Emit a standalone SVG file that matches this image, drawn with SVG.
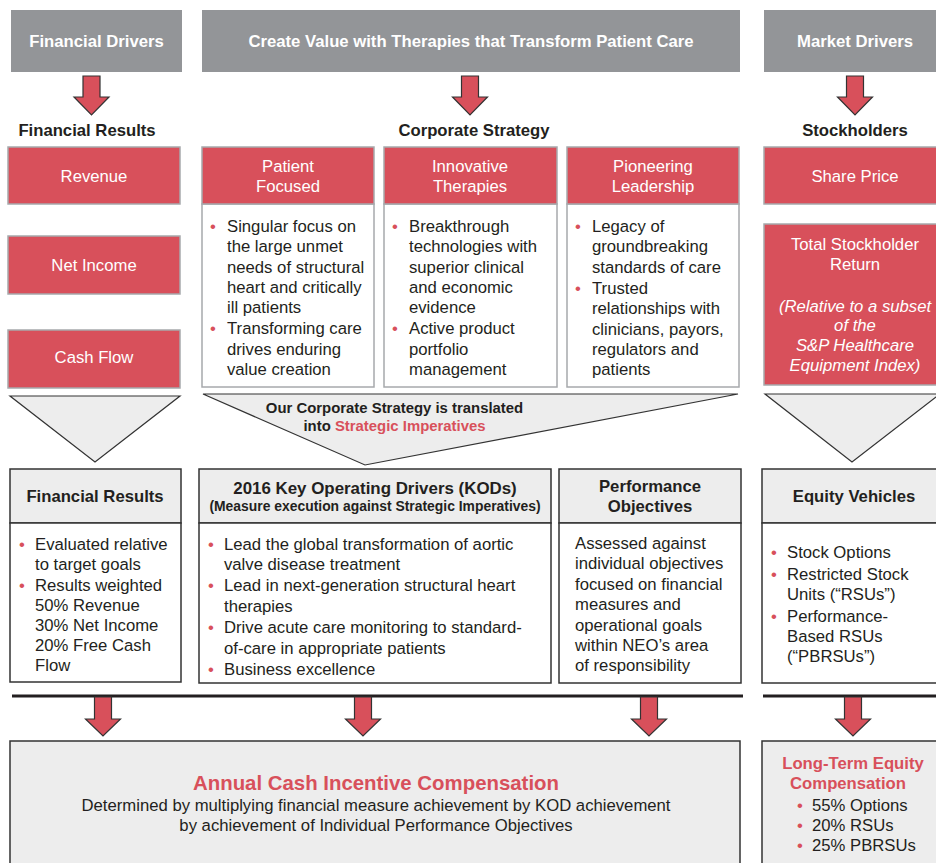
<svg xmlns="http://www.w3.org/2000/svg" width="936" height="863" viewBox="0 0 936 863">
<style>
text{font-family:"Liberation Sans",Arial,Helvetica,sans-serif;fill:#231f20;font-size:16.7px}
.gray{fill:#939598}
.red{fill:#d8505b;stroke:#a7a9ac;stroke-width:1.5}
.wbox{fill:#fff;stroke:#a7a9ac;stroke-width:1.5}
.hbox{fill:#ededed;stroke:#333;stroke-width:1.5}
.bbox{fill:#fff;stroke:#333;stroke-width:1.5}
.tri{fill:#ededed;stroke:#333;stroke-width:1.2}
.arrow{fill:#d8505b;stroke:#333;stroke-width:1.2}
.wt{fill:#fff;font-weight:bold}
.w{fill:#fff}
.b{font-weight:bold}
.c{text-anchor:middle}
.r{fill:#d8505b}
.it{font-style:italic}
.sep{stroke:#231f20;stroke-width:2.8}
</style>

<g id="financial-drivers"><rect class="gray" x="11" y="10" width="171" height="62"/><text class="wt c" x="96.5" y="47">Financial Drivers</text></g>
<g id="create-value"><rect class="gray" x="202" y="10" width="538" height="62"/><text class="wt c" x="471" y="47">Create Value with Therapies that Transform Patient Care</text></g>
<g id="market-drivers"><rect class="gray" x="764" y="10" width="180" height="62"/><text class="wt c" x="855" y="47">Market Drivers</text></g>

<g id="heading-financial-results"><text class="b c" x="87" y="136">Financial Results</text></g>
<g id="heading-corporate-strategy"><text class="b c" x="474" y="136">Corporate Strategy</text></g>
<g id="heading-stockholders"><text class="b c" x="855" y="136">Stockholders</text></g>

<g id="revenue"><rect class="red" x="8" y="147" width="172" height="57"/><text class="w c" x="94" y="182">Revenue</text></g>
<g id="net-income"><rect class="red" x="8" y="236" width="172" height="58"/><text class="w c" x="94" y="271">Net Income</text></g>
<g id="cash-flow"><rect class="red" x="8" y="330" width="172" height="58"/><text class="w c" x="94" y="363">Cash Flow</text></g>

<g id="patient-focused">
<rect class="wbox" x="202" y="204" width="172" height="183"/>
<rect class="red" x="202" y="147" width="172" height="57"/>
<text class="w c" x="288" y="172">Patient</text><text class="w c" x="288" y="192">Focused</text>
<text class="r" x="210" y="232">•</text><text x="227" y="232">Singular focus on</text>
<text x="227" y="252">the large unmet</text>
<text x="227" y="273">needs of structural</text>
<text x="227" y="293">heart and critically</text>
<text x="227" y="313">ill patients</text>
<text class="r" x="210" y="334">•</text><text x="227" y="334">Transforming care</text>
<text x="227" y="355">drives enduring</text>
<text x="227" y="375">value creation</text>
</g>

<g id="innovative-therapies">
<rect class="wbox" x="384" y="204" width="173" height="183"/>
<rect class="red" x="384" y="147" width="173" height="57"/>
<text class="w c" x="470" y="172">Innovative</text><text class="w c" x="470" y="192">Therapies</text>
<text class="r" x="392" y="232">•</text><text x="409" y="232">Breakthrough</text>
<text x="409" y="252">technologies with</text>
<text x="409" y="273">superior clinical</text>
<text x="409" y="293">and economic</text>
<text x="409" y="313">evidence</text>
<text class="r" x="392" y="334">•</text><text x="409" y="334">Active product</text>
<text x="409" y="355">portfolio</text>
<text x="409" y="375">management</text>
</g>

<g id="pioneering-leadership">
<rect class="wbox" x="567" y="204" width="172" height="183"/>
<rect class="red" x="567" y="147" width="172" height="57"/>
<text class="w c" x="653" y="172">Pioneering</text><text class="w c" x="653" y="192">Leadership</text>
<text class="r" x="575" y="232">•</text><text x="592" y="232">Legacy of</text>
<text x="592" y="252">groundbreaking</text>
<text x="592" y="273">standards of care</text>
<text class="r" x="575" y="294">•</text><text x="592" y="294">Trusted</text>
<text x="592" y="314">relationships with</text>
<text x="592" y="335">clinicians, payors,</text>
<text x="592" y="355">regulators and</text>
<text x="592" y="375">patients</text>
</g>

<g id="share-price"><rect class="red" x="764" y="147" width="180" height="57"/><text class="w c" x="855" y="182">Share Price</text></g>
<g id="total-stockholder-return">
<rect class="red" x="764" y="224" width="180" height="161"/>
<text class="w c" x="855" y="250">Total Stockholder</text>
<text class="w c" x="855" y="270">Return</text>
<text class="w c it" x="855" y="312">(Relative to a subset</text>
<text class="w c it" x="855" y="331">of the</text>
<text class="w c it" x="855" y="351">S&amp;P Healthcare</text>
<text class="w c it" x="855" y="371">Equipment Index)</text>
</g>

<g id="triangle-financial"><polygon class="tri" points="10,396 180,396 95,462"/></g>
<g id="triangle-strategy">
<polygon class="tri" points="203,394 738,394 365,465"/>
<text class="b c" style="font-size:14.9px" x="394.5" y="413">Our Corporate Strategy is translated</text>
<text class="b c" style="font-size:14.9px" x="394.5" y="431">into <tspan class="r">Strategic Imperatives</tspan></text>
</g>
<g id="triangle-stockholders"><polygon class="tri" points="765,394 940,394 852,462"/></g>

<g id="financial-results">
<rect class="hbox" x="10" y="469" width="171" height="54"/>
<rect class="bbox" x="10" y="523" width="171" height="159"/>
<text class="b c" x="95" y="502">Financial Results</text>
<text class="r" x="19" y="550">•</text><text x="35" y="550">Evaluated relative</text>
<text x="35" y="570">to target goals</text>
<text class="r" x="19" y="591">•</text><text x="35" y="591">Results weighted</text>
<text x="35" y="611">50% Revenue</text>
<text x="35" y="631">30% Net Income</text>
<text x="35" y="651">20% Free Cash</text>
<text x="35" y="671">Flow</text>
</g>

<g id="key-operating-drivers">
<rect class="hbox" x="199" y="469" width="352" height="54"/>
<rect class="bbox" x="199" y="523" width="352" height="160"/>
<text class="b c" style="font-size:16.9px" x="375" y="494">2016 Key Operating Drivers (KODs)</text>
<text class="b c" style="font-size:13.9px" x="375" y="511">(Measure execution against Strategic Imperatives)</text>
<text class="r" x="208" y="550">•</text><text x="224" y="550">Lead the global transformation of aortic</text>
<text x="224" y="570">valve disease treatment</text>
<text class="r" x="208" y="591">•</text><text x="224" y="591">Lead in next-generation structural heart</text>
<text x="224" y="612">therapies</text>
<text class="r" x="208" y="633">•</text><text x="224" y="633">Drive acute care monitoring to standard-</text>
<text x="224" y="654">of-care in appropriate patients</text>
<text class="r" x="208" y="675">•</text><text x="224" y="675">Business excellence</text>
</g>

<g id="performance-objectives">
<rect class="hbox" x="559" y="469" width="182" height="54"/>
<rect class="bbox" x="559" y="523" width="182" height="160"/>
<text class="b c" x="650" y="492">Performance</text>
<text class="b c" x="650" y="512">Objectives</text>
<text x="575" y="549">Assessed against</text>
<text x="575" y="569">individual objectives</text>
<text x="575" y="590">focused on financial</text>
<text x="575" y="610">measures and</text>
<text x="575" y="631">operational goals</text>
<text x="575" y="651">within NEO’s area</text>
<text x="575" y="671">of responsibility</text>
</g>

<g id="equity-vehicles">
<rect class="hbox" x="762" y="469" width="182" height="54"/>
<rect class="bbox" x="762" y="523" width="182" height="160"/>
<text class="b c" x="854" y="502">Equity Vehicles</text>
<text class="r" x="771" y="558">•</text><text x="787" y="558">Stock Options</text>
<text class="r" x="771" y="580">•</text><text x="787" y="580">Restricted Stock</text>
<text x="787" y="600">Units (“RSUs”)</text>
<text class="r" x="771" y="622">•</text><text x="787" y="622">Performance-</text>
<text x="787" y="642">Based RSUs</text>
<text x="787" y="662">(“PBRSUs”)</text>
</g>

<g id="annual-cash-incentive">
<rect class="hbox" x="10" y="741" width="730" height="130"/>
<text class="b c r" style="font-size:20.4px" x="376" y="790">Annual Cash Incentive Compensation</text>
<text class="c" x="376" y="811">Determined by multiplying financial measure achievement by KOD achievement</text>
<text class="c" x="376" y="831">by achievement of Individual Performance Objectives</text>
</g>

<g id="long-term-equity">
<rect class="hbox" x="762" y="741" width="182" height="130"/>
<text class="b c r" x="853" y="769">Long-Term Equity</text>
<text class="b c r" x="848" y="789">Compensation</text>
<text class="r" x="797" y="811">•</text><text x="812" y="811">55% Options</text>
<text class="r" x="797" y="831">•</text><text x="812" y="831">20% RSUs</text>
<text class="r" x="797" y="851">•</text><text x="812" y="851">25% PBRSUs</text>
</g>

<g id="connectors">
<path class="arrow" d="M83,76 H100 V97 H109 L91.5,115 L74,97 H83 Z"/>
<path class="arrow" d="M461.5,76 H478.5 V97 H487.5 L470,115 L452.5,97 H461.5 Z"/>
<path class="arrow" d="M846.5,76 H863.5 V97 H872.5 L855,115 L837.5,97 H846.5 Z"/>
<line class="sep" x1="12" y1="696" x2="743" y2="696"/>
<line class="sep" x1="763" y1="696" x2="940" y2="696"/>
<path class="arrow" d="M94.5,697 H111.5 V719 H120.5 L103,736 L85.5,719 H94.5 Z"/>
<path class="arrow" d="M354.5,697 H371.5 V719 H380.5 L363,736 L345.5,719 H354.5 Z"/>
<path class="arrow" d="M640.5,697 H657.5 V719 H666.5 L649,736 L631.5,719 H640.5 Z"/>
<path class="arrow" d="M844.5,697 H861.5 V719 H870.5 L853,736 L835.5,719 H844.5 Z"/>
</g>
</svg>
